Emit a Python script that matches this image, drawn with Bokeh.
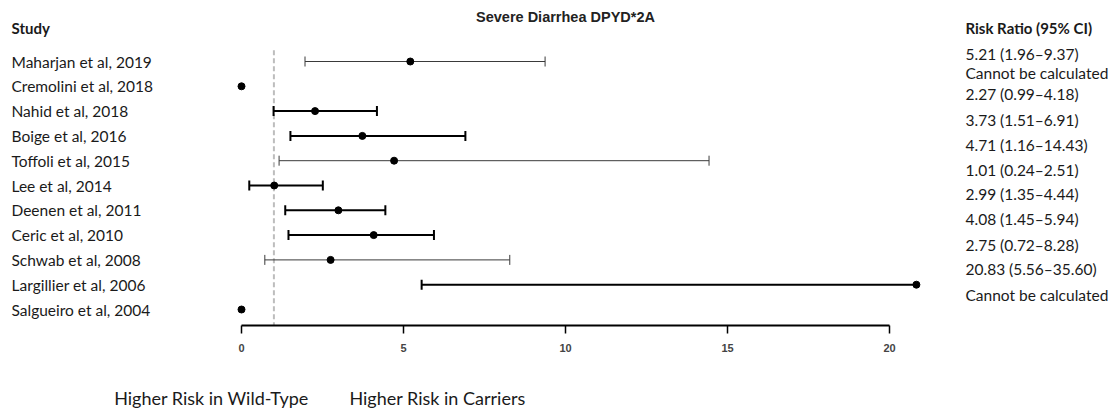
from math import pi
from bokeh.plotting import figure
from bokeh.models import Range1d, ColumnDataSource, FixedTicker, LinearAxis
from bokeh.core.properties import value
from bokeh.embed import file_html
from bokeh.resources import INLINE

# ---------------- data ----------------
studies = ["Maharjan et al, 2019", "Cremolini et al, 2018", "Nahid et al, 2018",
           "Boige et al, 2016", "Toffoli et al, 2015", "Lee et al, 2014",
           "Deenen et al, 2011", "Ceric et al, 2010", "Schwab et al, 2008",
           "Largillier et al, 2006", "Salgueiro et al, 2004"]
rr = [5.21, None, 2.27, 3.73, 4.71, 1.01, 2.99, 4.08, 2.75, 20.83, None]
lower = [1.96, None, 0.99, 1.51, 1.16, 0.24, 1.35, 1.45, 0.72, 5.56, None]
upper = [9.37, None, 4.18, 6.91, 14.43, 2.51, 4.44, 5.94, 8.28, 35.60, None]
rr_text = ["5.21 (1.96–9.37)", "Cannot be calculated", "2.27 (0.99–4.18)",
           "3.73 (1.51–6.91)", "4.71 (1.16–14.43)", "1.01 (0.24–2.51)",
           "2.99 (1.35–4.44)", "4.08 (1.45–5.94)", "2.75 (0.72–8.28)",
           "20.83 (5.56–35.60)", "Cannot be calculated"]
x_ticks = [0, 5, 10, 15, 20]
title_text = "Severe Diarrhea DPYD*2A"
left_header = "Study"
right_header = "Risk Ratio (95% CI)"
bottom_notes = ["Higher Risk in Wild-Type", "Higher Risk in Carriers"]
NULL_RR = 1

# ---------------- styles / layout ----------------
W, H = 1111, 411
PX = 32.4            # pixels per RR unit
X0_PX = 241          # screen x of RR = 0
ROW_PX = 24.8
ROW0_PX = 61
FRAME_H = 325
XCLIP = 20.86        # visible end of the plotting region
line_w = [1, 2, 2, 2, 1, 2, 2, 2, 1, 2, 2]
line_c = ["#3a3a3a", "black", "black", "black", "#3a3a3a", "black", "black", "black",
          "#3a3a3a", "black", "black"]
right_dy = [-0.32, -0.52, -0.69, -0.65, -0.65, -0.64, -0.64, -0.65, -0.6, -0.64, -0.6]
note_center_px = [211, 437]
label_font = "Lato"
label_size = "15.5px"
text_col = "#1a1a1a"

x_start = -X0_PX / PX
x_end = x_start + W / PX
y_top = -ROW0_PX / ROW_PX
y_bot = (FRAME_H - ROW0_PX) / ROW_PX

p = figure(width=W, height=H, output_backend="svg", toolbar_location=None,
           x_range=Range1d(x_start, x_end), y_range=Range1d(y_bot, y_top),
           min_border_left=0, min_border_right=0, min_border_top=0,
           min_border_bottom=H - FRAME_H, y_axis_location=None)
p.outline_line_color = None
p.xgrid.visible = False
p.ygrid.visible = False
p.border_fill_color = "white"

rows = list(range(len(studies)))

seg = dict(x0=[], x1=[], y=[], w=[], c=[])
capsx, capsy, capw, capc = [], [], [], []
for i in rows:
    if lower[i] is None:
        continue
    hi = min(upper[i], XCLIP)
    seg["x0"].append(lower[i]); seg["x1"].append(hi); seg["y"].append(i)
    seg["w"].append(line_w[i]); seg["c"].append(line_c[i])
    capsx.append(lower[i]); capsy.append(i); capw.append(line_w[i]); capc.append(line_c[i])
    if upper[i] <= XCLIP:
        capsx.append(upper[i]); capsy.append(i); capw.append(line_w[i]); capc.append(line_c[i])

# null line
p.segment(x0=[NULL_RR], x1=[NULL_RR], y0=[-0.45], y1=[y_bot], line_color="#bdbdbd",
          line_width=2, line_dash="5 3")

p.segment(x0="x0", x1="x1", y0="y", y1="y", line_width="w", line_color="c",
          source=ColumnDataSource(seg))
p.scatter(x=capsx, y=capsy, marker="dash", angle=pi / 2, size=10,
          line_width=capw, line_color=capc)

dot_x = [r if r is not None else 0 for r in rr]
p.scatter(x=dot_x, y=rows, size=7, color="black")

lx = (11 - X0_PX) / PX
p.text(x=[lx] * len(studies), y=rows, text=studies,
       text_font=value(label_font), text_font_size=label_size, text_baseline="middle",
       text_color=text_col)
rx = (965 - X0_PX) / PX
p.text(x=[rx] * len(rr_text), y=[r + d for r, d in zip(rows, right_dy)], text=rr_text,
       text_font=value(label_font), text_font_size=label_size, text_baseline="middle",
       text_color=text_col)

hy = (27 - ROW0_PX) / ROW_PX
p.text(x=[lx], y=[hy], text=[left_header], text_font=value(label_font),
       text_font_size="15px", text_font_style="bold", text_baseline="middle",
       text_color=text_col)
p.text(x=[rx], y=[hy], text=[right_header], text_font=value(label_font),
       text_font_size="15px", text_font_style="bold", text_baseline="middle",
       text_color=text_col)
ty = (16 - ROW0_PX) / ROW_PX
p.text(x=[10], y=[ty], text=[title_text], text_font=value("Liberation Sans"),
       text_font_size="14.5px", text_font_style="bold", text_baseline="middle",
       text_align="center", text_color="#222222")

ax = p.xaxis[0]
ax.bounds = (0, 20)
ax.ticker = FixedTicker(ticks=x_ticks)
ax.minor_tick_line_color = None
ax.major_tick_in = 0
ax.major_tick_out = 8
ax.major_tick_line_width = 1.5
ax.axis_line_width = 2
ax.axis_line_color = "black"
ax.major_label_text_font = "Liberation Sans"
ax.major_label_text_font_style = "bold"
ax.major_label_text_font_size = "11px"
ax.major_label_standoff = 10

# second (annotation) axis carrying the two direction notes
note_pos = [(c - X0_PX) / PX for c in note_center_px]
ax2 = LinearAxis(ticker=FixedTicker(ticks=note_pos),
                 major_label_overrides={t: s for t, s in zip(note_pos, bottom_notes)},
                 axis_line_color=None, major_tick_line_color=None,
                 minor_tick_line_color=None, major_tick_in=0, major_tick_out=0,
                 major_label_standoff=32, major_label_text_font=label_font,
                 major_label_text_font_size="18px", major_label_text_color=text_col)
p.add_layout(ax2, "below")

open("out.html", "w").write(file_html(p, INLINE))
